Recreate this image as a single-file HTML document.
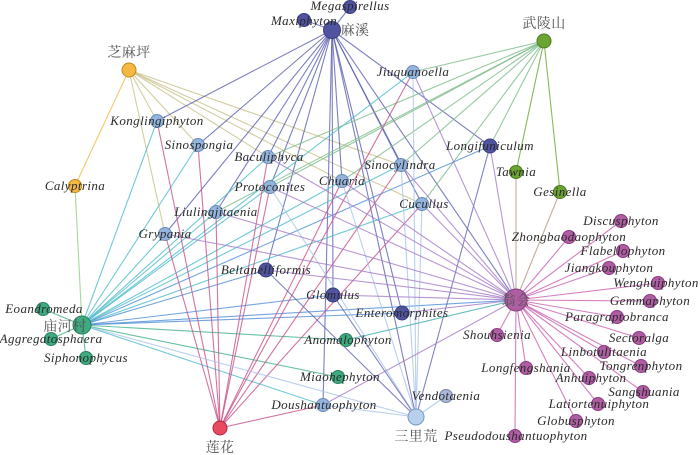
<!DOCTYPE html>
<html><head><meta charset="utf-8"><style>
html,body{margin:0;padding:0;background:#fff;width:700px;height:455px;overflow:hidden}
svg{display:block}
text{font-family:"Liberation Serif","Noto Serif CJK SC",serif;font-size:13px;fill:#2a2a2a;font-style:italic;text-anchor:middle;letter-spacing:0.4px}
text.c{font-style:normal;font-size:14px;fill:#555}
line{stroke-width:1.1;stroke-opacity:.8}
circle{stroke-width:1}
</style></head><body>
<svg width="700" height="455" viewBox="0 0 700 455">
<g stroke="#c8c08a">
<line x1="129" y1="70" x2="157" y2="121"/><line x1="129" y1="70" x2="165" y2="234"/>
<line x1="129" y1="70" x2="198" y2="145"/><line x1="129" y1="70" x2="268" y2="157"/>
<line x1="129" y1="70" x2="342" y2="181"/><line x1="129" y1="70" x2="422" y2="204"/>
<line x1="129" y1="70" x2="401" y2="165"/>
</g>
<line x1="129" y1="70" x2="75" y2="186" stroke="#f5b942"/>
<line x1="75" y1="186" x2="82" y2="325" stroke="#8fd080"/>
<g stroke="#5a5fb0">
<line x1="332" y1="30" x2="304" y2="20"/><line x1="332" y1="30" x2="350" y2="7"/>
<line x1="332" y1="30" x2="157" y2="121"/><line x1="332" y1="30" x2="198" y2="145"/>
<line x1="332" y1="30" x2="216" y2="212"/><line x1="332" y1="30" x2="165" y2="234"/>
<line x1="332" y1="30" x2="266" y2="270"/><line x1="332" y1="30" x2="268" y2="157"/>
<line x1="332" y1="30" x2="342" y2="181"/><line x1="332" y1="30" x2="333" y2="295"/>
<line x1="332" y1="30" x2="402" y2="313"/><line x1="332" y1="30" x2="490" y2="146"/>
<line x1="332" y1="30" x2="516" y2="300"/><line x1="332" y1="30" x2="416" y2="417"/>
<line x1="332" y1="30" x2="323" y2="405"/><line x1="332" y1="30" x2="401" y2="165"/>
<line x1="332" y1="30" x2="270" y2="187"/><line x1="332" y1="30" x2="422" y2="204"/>
</g>
<g stroke="#7dbb8a">
<line x1="544" y1="41" x2="413" y2="72"/><line x1="544" y1="41" x2="490" y2="146"/>
<line x1="544" y1="41" x2="401" y2="165"/><line x1="544" y1="41" x2="422" y2="204"/>
<line x1="544" y1="41" x2="268" y2="157"/><line x1="544" y1="41" x2="270" y2="187"/>
<line x1="544" y1="41" x2="342" y2="181"/><line x1="544" y1="41" x2="216" y2="212"/>
</g>
<line x1="544" y1="41" x2="516" y2="172" stroke="#6aa532"/>
<line x1="544" y1="41" x2="560" y2="192" stroke="#6aa532"/>
<line x1="516" y1="172" x2="516" y2="300" stroke="#b09a80"/>
<line x1="560" y1="192" x2="516" y2="300" stroke="#b09a80"/>
<g stroke="#4cbccc">
<line x1="82" y1="325" x2="157" y2="121"/><line x1="82" y1="325" x2="198" y2="145"/>
<line x1="82" y1="325" x2="165" y2="234"/><line x1="82" y1="325" x2="216" y2="212"/>
<line x1="82" y1="325" x2="270" y2="187"/><line x1="82" y1="325" x2="268" y2="157"/>
<line x1="82" y1="325" x2="413" y2="72"/><line x1="82" y1="325" x2="401" y2="165"/>
<line x1="82" y1="325" x2="422" y2="204"/><line x1="82" y1="325" x2="342" y2="181"/>
<line x1="82" y1="325" x2="323" y2="405"/>
</g>
<g stroke="#4f8fd8">
<line x1="82" y1="325" x2="490" y2="146"/><line x1="82" y1="325" x2="266" y2="270"/>
<line x1="82" y1="325" x2="333" y2="295"/><line x1="82" y1="325" x2="402" y2="313"/>
<line x1="82" y1="325" x2="516" y2="300"/>
</g>
<g stroke="#40b08a">
<line x1="82" y1="325" x2="43" y2="309"/><line x1="82" y1="325" x2="51" y2="339"/>
<line x1="82" y1="325" x2="86" y2="358"/><line x1="82" y1="325" x2="346" y2="340"/>
<line x1="82" y1="325" x2="338" y2="377"/>
</g>
<g stroke="#c8508a">
<line x1="220" y1="428" x2="157" y2="121"/><line x1="220" y1="428" x2="198" y2="145"/>
<line x1="220" y1="428" x2="165" y2="234"/><line x1="220" y1="428" x2="268" y2="157"/>
<line x1="220" y1="428" x2="270" y2="187"/><line x1="220" y1="428" x2="216" y2="212"/>
<line x1="220" y1="428" x2="413" y2="72"/><line x1="220" y1="428" x2="401" y2="165"/>
<line x1="220" y1="428" x2="422" y2="204"/><line x1="220" y1="428" x2="342" y2="181"/>
<line x1="220" y1="428" x2="323" y2="405"/>
</g>
<g stroke="#a9c4e8">
<line x1="416" y1="417" x2="270" y2="187"/><line x1="416" y1="417" x2="342" y2="181"/>
<line x1="416" y1="417" x2="401" y2="165"/><line x1="416" y1="417" x2="422" y2="204"/>
<line x1="416" y1="417" x2="446" y2="396"/><line x1="416" y1="417" x2="323" y2="405"/>
<line x1="416" y1="417" x2="413" y2="72"/><line x1="416" y1="417" x2="82" y2="325"/>
</g>
<g stroke="#6065b5">
<line x1="416" y1="417" x2="266" y2="270"/><line x1="416" y1="417" x2="333" y2="295"/>
<line x1="416" y1="417" x2="490" y2="146"/>
</g>
<g stroke="#a57cc8">
<line x1="516" y1="300" x2="413" y2="72"/><line x1="516" y1="300" x2="490" y2="146"/>
<line x1="516" y1="300" x2="268" y2="157"/><line x1="516" y1="300" x2="270" y2="187"/>
<line x1="516" y1="300" x2="216" y2="212"/><line x1="516" y1="300" x2="165" y2="234"/>
<line x1="516" y1="300" x2="266" y2="270"/><line x1="516" y1="300" x2="333" y2="295"/>
<line x1="516" y1="300" x2="402" y2="313"/><line x1="516" y1="300" x2="401" y2="165"/>
<line x1="516" y1="300" x2="422" y2="204"/><line x1="516" y1="300" x2="323" y2="405"/>
<line x1="516" y1="300" x2="342" y2="181"/>
</g>
<line x1="516" y1="300" x2="346" y2="340" stroke="#3faab0"/>
<g stroke="#c860b0">
<line x1="516" y1="300" x2="569" y2="237"/><line x1="516" y1="300" x2="621" y2="221"/>
<line x1="516" y1="300" x2="623" y2="251"/><line x1="516" y1="300" x2="609" y2="268"/>
<line x1="516" y1="300" x2="658" y2="283"/><line x1="516" y1="300" x2="650" y2="301"/>
<line x1="516" y1="300" x2="617" y2="317"/><line x1="516" y1="300" x2="639" y2="338"/>
<line x1="516" y1="300" x2="604" y2="352"/><line x1="516" y1="300" x2="641" y2="366"/>
<line x1="516" y1="300" x2="497" y2="335"/><line x1="516" y1="300" x2="526" y2="368"/>
<line x1="516" y1="300" x2="589" y2="378"/><line x1="516" y1="300" x2="643" y2="392"/>
<line x1="516" y1="300" x2="598" y2="404"/><line x1="516" y1="300" x2="576" y2="421"/>
<line x1="516" y1="300" x2="515" y2="436"/>
</g>
<g stroke="#3a3d7a" fill="#4f53a0">
<circle cx="332" cy="30" r="8.5"/><circle cx="304" cy="20" r="6.5"/><circle cx="350" cy="7" r="6.5"/>
<circle cx="490" cy="146" r="7"/><circle cx="266" cy="270" r="7"/><circle cx="333" cy="295" r="7"/><circle cx="402" cy="313" r="7"/>
</g>
<g stroke="#6a8cb8" fill="#93b4dc">
<circle cx="157" cy="121" r="6.5"/><circle cx="198" cy="145" r="6.5"/><circle cx="268" cy="157" r="6.5"/>
<circle cx="270" cy="187" r="6.5"/><circle cx="216" cy="212" r="6.5"/><circle cx="342" cy="181" r="6.5"/>
<circle cx="413" cy="72" r="6.5"/><circle cx="401" cy="165" r="6.5"/><circle cx="422" cy="204" r="6.5"/>
<circle cx="165" cy="234" r="6.5"/><circle cx="323" cy="405" r="6.5"/>
</g>
<circle cx="446" cy="396" r="6.5" fill="#a9b8d8" stroke="#7a88a8"/>
<circle cx="416" cy="417" r="8" fill="#b8d0ee" stroke="#7a98c0"/>
<g stroke="#c08a20" fill="#f5b942"><circle cx="129" cy="70" r="7"/><circle cx="75" cy="186" r="6.5"/></g>
<g stroke="#4a7a20" fill="#6aa532"><circle cx="544" cy="41" r="7"/><circle cx="516" cy="172" r="6.5"/><circle cx="560" cy="192" r="6.5"/></g>
<g stroke="#2a8060" fill="#3daa80">
<circle cx="82" cy="325" r="9"/><circle cx="43" cy="309" r="6.5"/><circle cx="51" cy="339" r="6.5"/><circle cx="86" cy="358" r="6.5"/>
<circle cx="346" cy="340" r="6.5"/><circle cx="338" cy="377" r="6.5"/>
</g>
<circle cx="220" cy="428" r="7" fill="#e84a5f" stroke="#b02a3f"/>
<g stroke="#8a3a80" fill="#b05ea3">
<circle cx="516" cy="300" r="11"/>
<circle cx="569" cy="237" r="6.5"/><circle cx="621" cy="221" r="6.5"/><circle cx="623" cy="251" r="6.5"/><circle cx="609" cy="268" r="6.5"/>
<circle cx="658" cy="283" r="6.5"/><circle cx="650" cy="301" r="6.5"/><circle cx="617" cy="317" r="6.5"/><circle cx="639" cy="338" r="6.5"/>
<circle cx="604" cy="352" r="6.5"/><circle cx="641" cy="366" r="6.5"/><circle cx="497" cy="335" r="6.5"/><circle cx="526" cy="368" r="6.5"/>
<circle cx="589" cy="378" r="6.5"/><circle cx="643" cy="392" r="6.5"/><circle cx="598" cy="404" r="6.5"/><circle cx="576" cy="421" r="6.5"/>
<circle cx="515" cy="436" r="6.5"/>
</g>
<text class="c" x="355" y="35">麻溪</text>
<text class="c" x="129" y="57">芝麻坪</text>
<text class="c" x="544" y="28">武陵山</text>
<text class="c" x="65" y="331">庙河村</text>
<text class="c" x="220" y="452">莲花</text>
<text class="c" x="416" y="441">三里荒</text>
<text class="c" x="516" y="305">翁会</text>
<text x="304" y="25">Maxiphyton</text>
<text x="350" y="10">Megaspirellus</text>
<text x="157" y="125">Konglingiphyton</text>
<text x="199" y="149">Sinospongia</text>
<text x="269" y="161">Baculiphyca</text>
<text x="270" y="191">Protoconites</text>
<text x="216" y="216">Liulingjitaenia</text>
<text x="342" y="185">Chuaria</text>
<text x="413" y="76">Jiuquanoella</text>
<text x="400" y="169">Sinocylindra</text>
<text x="424" y="208">Cucullus</text>
<text x="490" y="150">Longifuniculum</text>
<text x="516" y="176">Tawnia</text>
<text x="560" y="196">Gesinella</text>
<text x="75" y="190">Calyptrina</text>
<text x="165" y="238">Grypania</text>
<text x="266" y="274">Beltanelliformis</text>
<text x="333" y="299">Glomulus</text>
<text x="402" y="317">Enteromorphites</text>
<text x="348" y="344">Anomalophyton</text>
<text x="340" y="381">Miaohephyton</text>
<text x="324" y="409">Doushantuophyton</text>
<text x="446" y="400">Vendotaenia</text>
<text x="44" y="313">Eoandromeda</text>
<text x="51" y="343">Aggregatosphaera</text>
<text x="86" y="362">Siphonophycus</text>
<text x="569" y="241">Zhongbaodaophyton</text>
<text x="621" y="225">Discusphyton</text>
<text x="623" y="255">Flabellophyton</text>
<text x="609" y="272">Jiangkouphyton</text>
<text x="656" y="287">Wenghuiphyton</text>
<text x="650" y="305">Gemmaphyton</text>
<text x="617" y="321">Paragraptobranca</text>
<text x="639" y="342">Sectoralga</text>
<text x="604" y="356">Linbotulitaenia</text>
<text x="641" y="370">Tongrenphyton</text>
<text x="497" y="339">Shouhsienia</text>
<text x="526" y="372">Longfengshania</text>
<text x="591" y="382">Anhuiphyton</text>
<text x="644" y="396">Sangshuania</text>
<text x="599" y="408">Latiortenuiphyton</text>
<text x="576" y="425">Globusphyton</text>
<text x="516" y="440">Pseudodoushantuophyton</text>
</svg>
</body></html>
